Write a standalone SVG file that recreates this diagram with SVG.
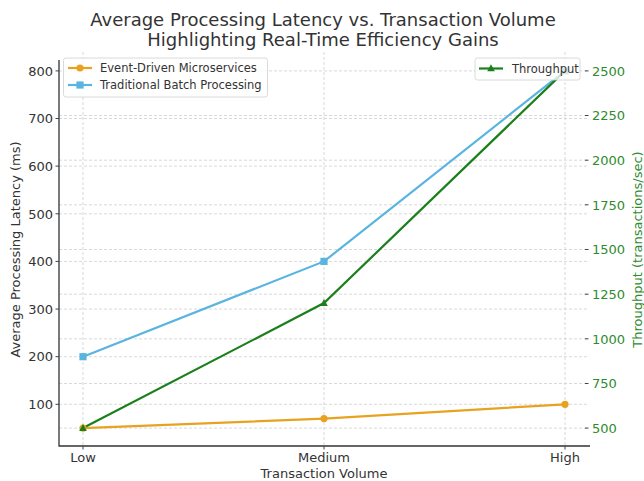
<svg xmlns="http://www.w3.org/2000/svg" width="644" height="481" viewBox="0 0 644 481">
<style>
text{font-family:"DejaVu Sans","Liberation Sans",sans-serif;fill:#333}
.title{font-size:18px;text-anchor:middle}
.tick{font-size:13px}
.lt{text-anchor:end}
.rt{fill:#2e8b2e}
.lab{font-size:13px;text-anchor:middle}
.leg{font-size:11.5px}
.grid{stroke:#cfcfcf;stroke-width:0.8;stroke-dasharray:3,2;fill:none}
.spine{stroke:#333;stroke-width:1.3;fill:none}
.tk{stroke:#444;stroke-width:1}
.ev{stroke:#e9a21f;stroke-width:2.2;fill:none}
.ba{stroke:#5ab4e0;stroke-width:2.2;fill:none}
.th{stroke:#1b7f1b;stroke-width:2.2;fill:none}
.legbox{fill:#fff;fill-opacity:0.8;stroke:#d0d0d0;stroke-width:0.8}
</style>
<defs>
<circle id="mc" r="3.6" fill="#e9a21f"/>
<rect id="ms" x="-3.6" y="-3.6" width="7.2" height="7.2" fill="#5ab4e0"/>
<path id="mt" d="M0,-4.2 L3.8,2.8 L-3.8,2.8 Z" fill="#1b7f1b"/>
</defs>
<rect width="644" height="481" fill="#fff"/>
<g id="title">
<text class="title" x="323" y="26">Average Processing Latency vs. Transaction Volume</text>
<text class="title" x="323" y="46">Highlighting Real-Time Efficiency Gains</text>
</g>
<g id="grid">
<path class="grid" d="M59,404.3H589M59,356.7H589M59,309.05H589M59,261.4H589M59,213.8H589M59,166.1H589M59,118.5H589M59,70.9H589"/>
<path class="grid" d="M59,428.1H589M59,383.5H589M59,338.8H589M59,294.2H589M59,249.5H589M59,204.8H589M59,160.2H589M59,115.5H589"/>
<path class="grid" d="M83,52V446M324,52V446M565,52V446"/>
</g>
<g id="axes">
<path class="spine" d="M59,60V446H590"/>
<path class="tk" d="M55.5,404.3H59M55.5,356.7H59M55.5,309.05H59M55.5,261.4H59M55.5,213.8H59M55.5,166.1H59M55.5,118.5H59M55.5,70.9H59"/>
<path class="tk" d="M585,428.1H588.5M585,383.5H588.5M585,338.8H588.5M585,294.2H588.5M585,249.5H588.5M585,204.8H588.5M585,160.2H588.5M585,115.5H588.5M585,70.9H588.5" stroke="#777"/>
<path class="tk" d="M83,446V449.5M324,446V449.5M565,446V449.5"/>
<g class="tick lt">
<text class="tick lt" x="53" y="409">100</text>
<text class="tick lt" x="53" y="361.4">200</text>
<text class="tick lt" x="53" y="313.8">300</text>
<text class="tick lt" x="53" y="266.1">400</text>
<text class="tick lt" x="53" y="218.5">500</text>
<text class="tick lt" x="53" y="170.8">600</text>
<text class="tick lt" x="53" y="123.2">700</text>
<text class="tick lt" x="53" y="75.6">800</text>
</g>
<text class="tick rt" x="592" y="432.8">500</text>
<text class="tick rt" x="592" y="388.2">750</text>
<text class="tick rt" x="592" y="343.5">1000</text>
<text class="tick rt" x="592" y="298.9">1250</text>
<text class="tick rt" x="592" y="254.2">1500</text>
<text class="tick rt" x="592" y="209.5">1750</text>
<text class="tick rt" x="592" y="164.9">2000</text>
<text class="tick rt" x="592" y="120.2">2250</text>
<text class="tick rt" x="592" y="75.6">2500</text>
<text class="lab" x="83" y="462">Low</text>
<text class="lab" x="324" y="462">Medium</text>
<text class="lab" x="565" y="462">High</text>
<text class="lab" x="324" y="478">Transaction Volume</text>
<text class="lab" transform="translate(20,249.5) rotate(-90)">Average Processing Latency (ms)</text>
<text class="lab rt" transform="translate(642,249.5) rotate(-90)">Throughput (transactions/sec)</text>
</g>
<g id="connectors">
<polyline id="event-driven" class="ev" points="83,428.1 324,418.6 565,404.3"/>
<polyline id="batch" class="ba" points="83,356.7 324,261.4 565,70.9"/>
<polyline id="throughput" class="th" points="83,428.1 324,303.1 565,70.9"/>
</g>
<g id="markers-event"><use href="#mc" x="83" y="428.1"/><use href="#mc" x="324" y="418.6"/><use href="#mc" x="565" y="404.3"/></g>
<g id="markers-batch"><use href="#ms" x="83" y="356.7"/><use href="#ms" x="324" y="261.4"/><use href="#ms" x="565" y="70.9"/></g>
<g id="markers-throughput"><use href="#mt" x="83" y="428.1"/><use href="#mt" x="324" y="303.1"/><use href="#mt" x="565" y="70.9"/></g>
<g id="legend-left">
<rect class="legbox" x="63.5" y="58" width="204" height="39" rx="2.5"/>
<path class="ev" d="M68,68H92"/><use href="#mc" x="80" y="68"/>
<text class="leg" x="100" y="72">Event-Driven Microservices</text>
<path class="ba" d="M68,85H92"/><use href="#ms" x="80" y="85"/>
<text class="leg" x="100" y="89">Traditional Batch Processing</text>
</g>
<g id="legend-right">
<rect class="legbox" x="475" y="58" width="105" height="22" rx="2.5"/>
<path class="th" d="M479,68.5H503"/><use href="#mt" x="491" y="68.5"/>
<text class="leg" x="512" y="72.5">Throughput</text>
</g>
</svg>
